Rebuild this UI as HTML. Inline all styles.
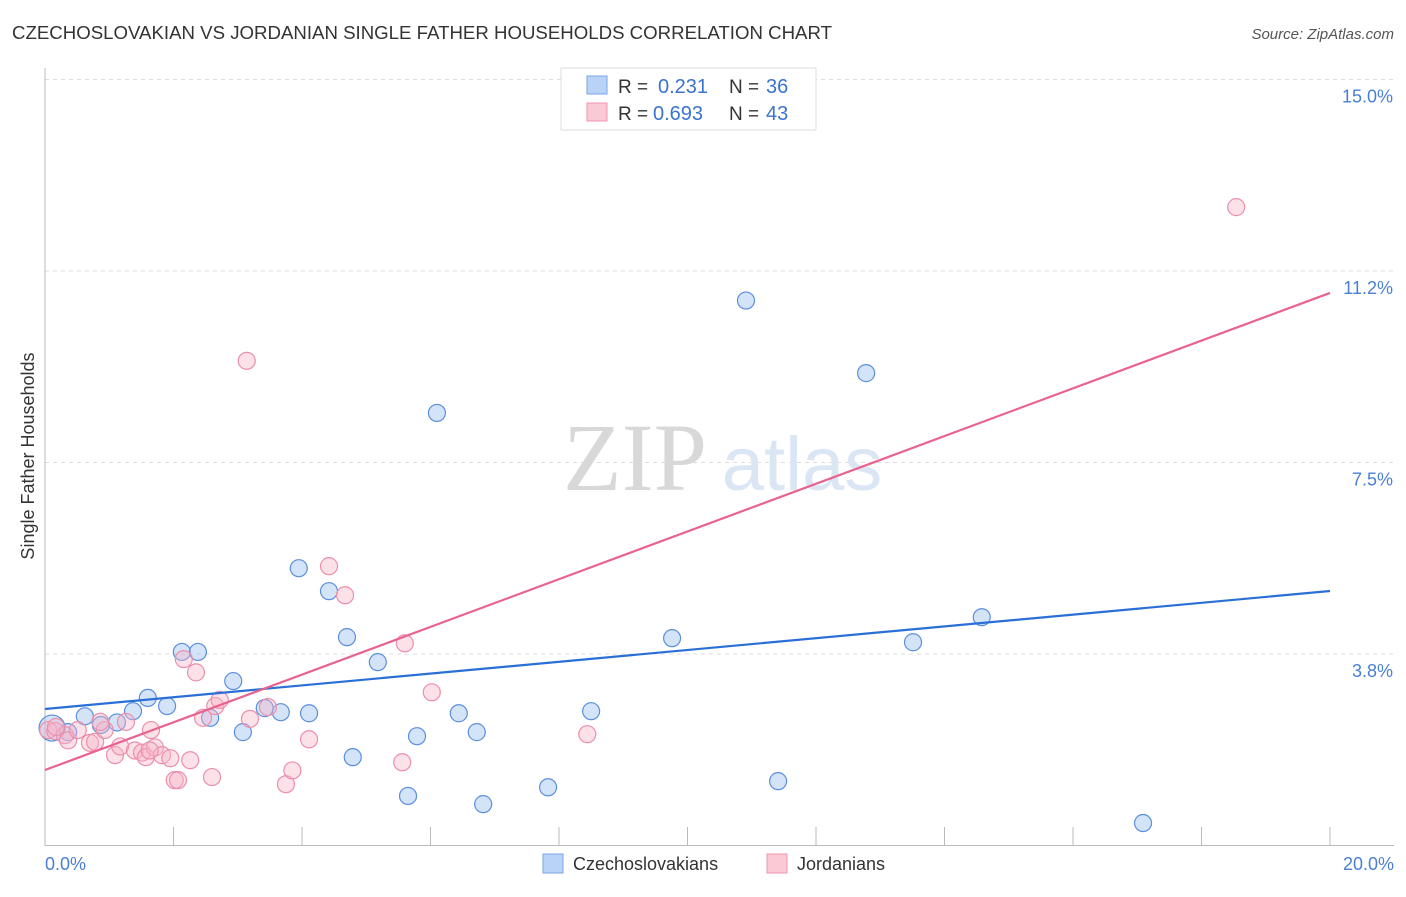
<!DOCTYPE html>
<html><head><meta charset="utf-8"><style>
body{margin:0;background:#fff;font-family:"Liberation Sans",sans-serif}
svg text{font-family:"Liberation Sans",sans-serif}
</style></head><body>
<svg id="chart" width="1406" height="892" xmlns="http://www.w3.org/2000/svg">
<text x="12" y="39" font-size="18" fill="#333" textLength="820" lengthAdjust="spacingAndGlyphs">CZECHOSLOVAKIAN VS JORDANIAN SINGLE FATHER HOUSEHOLDS CORRELATION CHART</text>
<text x="1394" y="39" font-size="15" fill="#555" text-anchor="end" font-style="italic">Source: ZipAtlas.com</text>
<g id="grid"></g>
<g><text x="635" y="490" font-size="96" fill="#d8d8d8" style="font-family:'Liberation Serif',serif" text-anchor="middle">ZIP</text><text x="802" y="490" font-size="76" fill="#dbe6f5" text-anchor="middle">atlas</text></g>
<line x1="45" y1="68" x2="45" y2="846" stroke="#bbb"/>
<line x1="45" y1="845.5" x2="1394" y2="845.5" stroke="#bbb"/>
<text transform="translate(34,456) rotate(-90)" font-size="18" fill="#333" text-anchor="middle">Single Father Households</text>
<text x="45" y="870" font-size="18" fill="#4a7fd4">0.0%</text>
<text x="1394" y="870" font-size="18" fill="#4a7fd4" text-anchor="end">20.0%</text>
<g id="pts"></g>
<g id="lines"></g>
<g>
<rect x="561" y="68" width="255" height="62" fill="#fff" stroke="#ddd"/>
<rect x="587" y="76" width="20" height="18" fill="#b9d3f6" stroke="#7aa6e6"/>
<rect x="587" y="103" width="20" height="18" fill="#fbc8d6" stroke="#f095b0"/>
<text x="618" y="93" font-size="19" fill="#333">R =</text>
<text x="658" y="93" font-size="20" fill="#3a73d0">0.231</text>
<text x="729" y="93" font-size="19" fill="#333">N =</text>
<text x="766" y="93" font-size="20" fill="#3a73d0">36</text>
<text x="618" y="120" font-size="19" fill="#333">R =</text>
<text x="653" y="120" font-size="20" fill="#3a73d0">0.693</text>
<text x="729" y="120" font-size="19" fill="#333">N =</text>
<text x="766" y="120" font-size="20" fill="#3a73d0">43</text>
</g>
<g>
<rect x="543" y="854" width="20" height="19" fill="#b9d3f6" stroke="#7aa6e6"/>
<text x="573" y="870" font-size="18" fill="#333">Czechoslovakians</text>
<rect x="767" y="854" width="20" height="19" fill="#fbc8d6" stroke="#f095b0"/>
<text x="797" y="870" font-size="18" fill="#333">Jordanians</text>
</g>
</svg>
<script>
const yTicks=[3.8,7.5,11.2,15.0];
const yTickVals=[3.75,7.5,11.25,15.0];
const xTickVals=[0,2,4,6,8,10,12,14,16,18,20];
const blueX=[0.11,0.36,0.62,0.87,1.12,1.37,1.60,1.90,2.13,2.38,2.57,2.93,3.08,3.42,3.67,3.95,4.11,4.42,4.70,4.79,5.18,5.65,5.79,6.10,6.44,6.72,6.82,7.83,8.50,9.76,10.91,11.41,12.78,13.51,14.58,17.09];
const blueY=[2.30,2.22,2.53,2.36,2.41,2.63,2.89,2.73,3.79,3.79,2.50,3.22,2.22,2.69,2.61,5.43,2.59,4.98,4.08,1.73,3.59,0.97,2.14,8.47,2.59,2.22,0.81,1.14,2.63,4.06,10.67,1.26,9.25,3.98,4.47,0.44];
const pinkX=[0.05,0.16,0.31,0.36,0.51,0.70,0.78,0.93,1.09,1.17,1.26,1.40,1.51,1.57,1.65,1.71,1.82,1.95,2.02,2.07,2.16,2.26,2.35,2.46,2.60,2.65,2.72,3.14,3.19,3.47,3.75,3.85,4.11,4.42,4.67,5.56,5.60,6.02,8.44,18.54,0.17,0.86,1.63];
const pinkY=[2.26,2.24,2.16,2.06,2.26,2.01,2.03,2.26,1.77,1.94,2.42,1.86,1.82,1.73,2.26,1.92,1.77,1.71,1.28,1.28,3.65,1.67,3.39,2.50,1.34,2.73,2.85,9.49,2.48,2.71,1.20,1.47,2.08,5.47,4.90,1.63,3.96,3.00,2.18,12.50,2.32,2.42,1.86];
const blueLine=[2.673,4.983];
const pinkLine=[1.478,10.82];
const X=v=>45+v*64.25, Y=v=>845.5-v*51.07;
const NS="http://www.w3.org/2000/svg";
function mk(tag,attrs,parent){const e=document.createElementNS(NS,tag);for(const k in attrs)e.setAttribute(k,attrs[k]);parent.appendChild(e);return e;}
const grid=document.getElementById('grid');
yTickVals.forEach((v,i)=>{
 const l=mk('line',{x1:45,x2:1394,y1:Y(v),y2:Y(v),stroke:'#ddd','stroke-dasharray':'4,4'},grid);
 
 
 const t=mk('text',{x:1393,y:Y(v)+23,'font-size':18,fill:'#4a7fd4','text-anchor':'end'},grid);
 t.textContent=yTicks[i].toFixed(1)+'%';
 
 
});
xTickVals.forEach(v=>{
 const l=mk('line',{x1:X(v),x2:X(v),y1:827,y2:845,stroke:'#bbb'},grid);
 
 
});
const pts=document.getElementById('pts');
blueX.forEach((x,i)=>{
 const c=mk('circle',{cx:X(x),cy:Y(blueY[i]),r:i==0?13:8.5,fill:'rgba(160,196,240,0.45)',stroke:'#5b8fdc','stroke-width':1.2},pts);
 
 
});
pinkX.forEach((x,i)=>{
 const c=mk('circle',{cx:X(x),cy:Y(pinkY[i]),r:8.5,fill:'rgba(248,180,200,0.4)',stroke:'#ec8fac','stroke-width':1.2},pts);
 
 
});
const lines=document.getElementById('lines');
const bl=mk('line',{x1:X(0),y1:Y(blueLine[0]),x2:X(20),y2:Y(blueLine[1]),stroke:'#2a6fd6','stroke-width':2.2},lines);


const pl=mk('line',{x1:X(0),y1:Y(pinkLine[0]),x2:X(20),y2:Y(pinkLine[1]),stroke:'#e8638f','stroke-width':2.2},lines);


</script>
</body></html>
